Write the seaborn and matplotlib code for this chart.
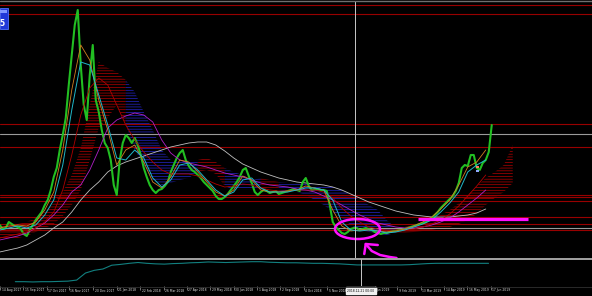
import numpy as np
import pandas as pd
import matplotlib
matplotlib.use("Agg")
import matplotlib.pyplot as plt
import matplotlib.dates as mdates
import matplotlib.transforms as mtransforms
from matplotlib.patches import Ellipse, Rectangle
from matplotlib.lines import Line2D
import seaborn as sns

# ---------------- data ----------------
price_start = "2017-09-04"          # closes sampled every 4 days
close = [4060, 3780, 3850, 4270, 4130, 3990, 3920, 3780, 3430, 3290,
         3710, 4060, 4410, 4690, 4970, 5460, 5810, 6510, 7420, 8050,
         9310, 10360, 11550, 13860, 15960, 18060, 19110, 15260, 12460, 11410,
         14560, 16660, 12810, 11970, 10710, 9800, 9450, 8610, 6860, 6160,
         8610, 9800, 10360, 10150, 9800, 10150, 9660, 8960, 8050, 7420,
         6860, 6510, 6300, 6510, 6580, 6790, 7070, 7770, 8260, 8750,
         9100, 9310, 8610, 8190, 7910, 7770, 7560, 7350, 7070, 6860,
         6650, 6440, 6090, 5880, 5880, 6020, 6230, 6510, 6790, 7070,
         7420, 7910, 8050, 7490, 7000, 6370, 6160, 6370, 6510, 6440,
         6300, 6370, 6440, 6230, 6300, 6370, 6440, 6510, 6580, 6510,
         6440, 7070, 7350, 6790, 6510, 6580, 6580, 6510, 6510, 6440,
         5460, 4270, 3920, 3710, 3500, 3430, 3570, 3780, 3850, 3850,
         3710, 3780, 3850, 3780, 3710, 3570, 3500, 3430, 3500, 3500,
         3570, 3640, 3640, 3710, 3710, 3780, 3850, 3920, 3990, 4060,
         4130, 4200, 4270, 4410, 4550, 4760, 4970, 5250, 5460, 5670,
         5880, 6090, 6440, 7000, 8050, 8260, 8190, 8960, 8960, 8050,
         7910, 8400, 8610, 9170, 11060]

ma_start = "2017-09-04"             # moving averages sampled every 12 days
ma_cyan = [3710, 3850, 3990, 3850, 4060, 4760, 5810, 8260, 12110, 15470,
           15260, 13160, 11060, 8750, 8610, 9310, 8750, 7350, 6720, 7210,
           8260, 8400, 7910, 7210, 6510, 6090, 6370, 7210, 7350, 6650,
           6370, 6370, 6370, 6510, 6650, 6650, 6510, 5810, 4270, 3710,
           3640, 3710, 3640, 3500, 3570, 3710, 3920, 4130, 4410, 4970,
           5600, 6370, 7770, 8260, 8610]
ma_orange = [3850, 3990, 4060, 3990, 4270, 5110, 6370, 9310, 13510, 16660,
             15610, 12810, 10710, 8260, 9310, 9660, 8470, 7070, 6650, 7420,
             8610, 8470, 7770, 7070, 6370, 6090, 6510, 7490, 7210, 6510,
             6370, 6370, 6440, 6510, 6790, 6650, 6510, 5110, 3990, 3640,
             3710, 3780, 3640, 3570, 3640, 3780, 3990, 4270, 4620, 5180,
             5810, 6860, 8120, 8470, 9310]
ma_red = [3150, 3290, 3430, 3570, 3850, 4270, 4970, 6510, 8960, 11760,
          13650, 14350, 13860, 12460, 11060, 10010, 9170, 8470, 7910, 7630,
          7630, 7630, 7490, 7210, 6930, 6720, 6790, 6930, 6860, 6650,
          6510, 6440, 6440, 6510, 6510, 6510, 6370, 5950, 5250, 4690,
          4270, 3920, 3780, 3710, 3710, 3710, 3780, 3920, 4130, 4410,
          4830, 5390, 6090, 6790, 7560]
ma_magenta = [3010, 3150, 3290, 3500, 3850, 4200, 4760, 5460, 6370, 6860,
              7910, 9310, 10850, 11410, 11690, 11900, 11760, 11270, 10010, 9100,
              8610, 8400, 8260, 8120, 7910, 7700, 7560, 7420, 7210, 7000,
              6860, 6790, 6720, 6580, 6510, 6370, 6090, 5810, 5460, 5110,
              4760, 4480, 4200, 4060, 3920, 3850, 3850, 3920, 4060, 4270,
              4550, 4970, 5460, 5950, 6510]
ma_white = [2170, 2310, 2450, 2660, 3010, 3360, 3850, 4270, 4970, 5810,
            6510, 7070, 7770, 8190, 8470, 8680, 8890, 9100, 9310, 9520,
            9660, 9800, 9870, 9870, 9660, 9240, 8750, 8330, 8050, 7770,
            7560, 7350, 7210, 7070, 7000, 6930, 6860, 6720, 6510, 6230,
            5950, 5670, 5460, 5250, 5040, 4900, 4760, 4690, 4620, 4620,
            4620, 4690, 4760, 4900, 5180]

cloud_top = [4060, 3990, 4130, 4270, 4550, 4970, 5600, 6370, 7560, 9450,
             12460, 15470, 15050, 14770, 14210, 13370, 11970, 10710, 9310, 8610,
             8470, 8610, 8610, 8750, 8470, 8050, 7770, 7560, 7210, 7350,
             7210, 7070, 7000, 7000, 6930, 6860, 6790, 6720, 6510, 6160,
             5810, 5460, 5110, 4410, 3850, 3920, 4060, 4270, 4550, 4760,
             5110, 5600, 6160, 6790, 7350, 7770, 8260, 9660]
cloud_bot = [3010, 3010, 3150, 3290, 3570, 3850, 4130, 4690, 5460, 6510,
             8610, 10850, 11550, 12460, 11060, 9310, 8260, 7210, 6860, 7000,
             7210, 7350, 7770, 7910, 7630, 6790, 6510, 6510, 6510, 6650,
             6650, 6510, 6370, 6370, 6160, 5810, 5460, 4970, 4550, 4060,
             3710, 3570, 3430, 3360, 3500, 3500, 3570, 3640, 3710, 3850,
             3920, 4130, 4410, 4830, 5460, 5950, 6370, 7000]
cloud_side = ("rrrrrrrrrrrrrr" "bbbbbbbb" "rrr" "bbbb" "rr"
              "bbbbbbbbbbbbb" "rrrrrrrrrrrrrr")

osc = [16, 16, 15, 16, 16, 17, 18, 22, 48, 58,
       63, 77, 80, 84, 87, 84, 82, 81, 83, 84,
       86, 87, 89, 88, 87, 88, 89, 90, 90, 88,
       87, 86, 86, 85, 84, 84, 83, 82, 80, 78,
       78, 78, 78, 78, 78, 79, 81, 83, 84, 84,
       84, 84, 84, 84, 84]

levels_red = [19460, 18830, 11130, 9520, 6160, 6020, 5740, 4620, 4130, 3710]
levels_gray = [10430, 3850]

tick_dates = ["2017-08-14", "2017-09-15", "2017-10-17", "2017-11-16", "2017-12-20",
              "2018-01-21", "2018-02-22", "2018-03-26", "2018-04-27", "2018-05-29",
              "2018-06-30", "2018-08-01", "2018-09-02", "2018-10-04", "2018-11-05",
              "2019-01-09", "2019-02-09", "2019-03-13", "2019-04-14", "2019-05-16",
              "2019-06-17"]
tick_labels = ["14 Aug 2017", "15 Sep 2017", "17 Oct 2017", "16 Nov 2017", "20 Dec 2017",
               "21 Jan 2018", "22 Feb 2018", "26 Mar 2018", "27 Apr 2018", "29 May 2018",
               "30 Jun 2018", "1 Aug 2018", "2 Sep 2018", "4 Oct 2018", "5 Nov 2018",
               "Jan 2019", "9 Feb 2019", "13 Mar 2019", "14 Apr 2019", "16 May 2019",
               "17 Jun 2019"]
crosshair_date = "2018-12-21"
crosshair_label = "2018.12.21 00:00"

marker_date = "2019-06-03"
marker_prices = [8120, 7840]

ellipse_date, ellipse_price = "2018-12-25", 3780
ellipse_days, ellipse_height = 60, 1400
bar_dates, bar_price = ["2019-03-16", "2019-08-09"], 4515
arrow_dates = ["2019-01-05", "2019-01-13", "2019-01-24", "2019-02-06", "2019-02-15"]
arrow_prices = [2730, 2240, 1960, 1820, 1750]
arrow_head_dates = ["2019-01-21", "2019-01-05", "2019-01-03"]
arrow_head_prices = [2660, 2730, 2030]

# ---------------- style ----------------
sns.set_style("ticks", {"axes.facecolor": "black", "figure.facecolor": "black"})
plt.rcParams["font.family"] = ["DejaVu Sans"]
plt.rcParams["hatch.linewidth"] = 0.45

W, H = 592, 296
fig = plt.figure(figsize=(W / 100, H / 100), dpi=100, facecolor="black")
ax = fig.add_axes([0, 1 - 258 / H, 1, 257 / H])
ax2 = fig.add_axes([0, 1 - 286 / H, 1, 27 / H])

x0 = mdates.date2num(pd.Timestamp("2017-09-04"))
for a in (ax, ax2):
    a.set_facecolor("black")
    for s in a.spines.values():
        s.set_visible(False)
    a.grid(False)

p_dates = pd.date_range(price_start, periods=len(close), freq="4D")
m_dates = pd.date_range(ma_start, periods=len(ma_cyan), freq="12D")
c_dates = pd.date_range(ma_start, periods=len(cloud_top), freq="12D")

# clouds (hatched ribbons)
cnum = mdates.date2num(c_dates)
i = 0
n = len(cloud_side)
while i < n:
    j = i
    while j + 1 < n and cloud_side[j + 1] == cloud_side[i]:
        j += 1
    k = min(j + 1, n - 1)
    col = "#c80000" if cloud_side[i] == "r" else "#2a2ae0"
    ax.fill_between(cnum[i:k + 1], cloud_bot[i:k + 1], cloud_top[i:k + 1],
                    facecolor="none", edgecolor=col, hatch="------",
                    linewidth=0, zorder=1)
    i = j + 1

# horizontal levels
for lv in levels_red:
    ax.axhline(lv, color="#980000", lw=0.8, zorder=1.5)
for lv in levels_gray:
    ax.axhline(lv, color="#9a9a9a", lw=0.8, zorder=1.5)

# moving averages and price
sns.lineplot(x=m_dates, y=ma_white, ax=ax, color="#c0c0c0", lw=0.6, zorder=2)
sns.lineplot(x=p_dates, y=close, ax=ax, color="#22bf22", lw=1.5, zorder=3)
sns.lineplot(x=m_dates, y=ma_magenta, ax=ax, color="#b020c8", lw=0.6, zorder=4)
sns.lineplot(x=m_dates, y=ma_red, ax=ax, color="#b00000", lw=0.6, zorder=4)
sns.lineplot(x=m_dates, y=ma_orange, ax=ax, color="#d08020", lw=0.6, zorder=4)
sns.lineplot(x=m_dates, y=ma_cyan, ax=ax, color="#20b8c8", lw=0.7, zorder=4)

md = pd.to_datetime([marker_date, marker_date])
ax.scatter(mdates.date2num(md), marker_prices, c=["#ff8060", "#90a8ff"],
           marker="s", s=3, zorder=6, linewidths=0)

# magenta drawings
mag = "#ff10ff"
ed = mdates.date2num(pd.Timestamp(ellipse_date))
ax.add_patch(Ellipse((ed, ellipse_price), ellipse_days, ellipse_height,
                     facecolor="none", edgecolor=mag, lw=1.8, zorder=7))
bd = mdates.date2num(pd.to_datetime(bar_dates))
ax.hlines(bar_price, bd[0], bd[1], color=mag, lw=2.3, zorder=7)
ad = mdates.date2num(pd.to_datetime(arrow_dates))
ax.plot(ad, arrow_prices, color=mag, lw=1.8, zorder=7, solid_capstyle="round")
hd = mdates.date2num(pd.to_datetime(arrow_head_dates))
ax.plot(hd, arrow_head_prices, color=mag, lw=1.8, zorder=7, solid_capstyle="round")

# oscillator pane
sns.lineplot(x=m_dates, y=osc, ax=ax2, color="#128080", lw=0.8)

# crosshair
cd = mdates.date2num(pd.Timestamp(crosshair_date))
for a in (ax, ax2):
    a.axvline(cd, color="#c8c8c8", lw=0.7, zorder=8)

xl = (x0 + 0.33, x0 + 0.33 + W / 0.75)
ax.set_xlim(*xl)
ax2.set_xlim(*xl)
ax.set_ylim(1750, 19740)
ax2.set_ylim(0, 100)
ax.set_xticks([])
ax.set_yticks([])
ax.set_xlabel("")
ax.set_ylabel("")
ax2.set_yticks([])
ax2.set_ylabel("")
ax2.set_xlabel("")
tnum = mdates.date2num(pd.to_datetime(tick_dates))
ax2.set_xticks(tnum)
ax2.tick_params(axis="x", length=3, width=0.5, color="#a0a0a0",
                direction="out", labelbottom=False)

trans = mtransforms.offset_copy(ax2.get_xaxis_transform(), fig=fig,
                                x=1.5, y=-4.5, units="dots")
for t, lab in zip(tnum, tick_labels):
    ax2.text(t, 0, lab, transform=trans, fontsize=2.2, color="#e0e0e0",
             ha="left", va="center", clip_on=False)

tc = mtransforms.offset_copy(ax2.get_xaxis_transform(), fig=fig,
                             x=0, y=-4.5, units="dots")
ax2.text(cd, 0, crosshair_label, transform=tc, fontsize=2.2, color="black",
         ha="center", va="center", clip_on=False, zorder=10,
         bbox=dict(boxstyle="square,pad=0.4", facecolor="#f0f0f0",
                   edgecolor="#f0f0f0"))

# frame lines
fig.add_artist(Line2D([0, 1], [1 - 0.5 / H, 1 - 0.5 / H], transform=fig.transFigure,
                      color="#707070", lw=1.0))
fig.add_artist(Line2D([0, 1], [1 - 258.5 / H, 1 - 258.5 / H], transform=fig.transFigure,
                      color="#b0b0b0", lw=1.3))
fig.add_artist(Line2D([0, 1], [1 - 286.5 / H, 1 - 286.5 / H], transform=fig.transFigure,
                      color="#303030", lw=0.6))

# top-left blue box
fig.add_artist(Rectangle((0, 1 - 29 / H), 7.5 / W, 21 / H, transform=fig.transFigure,
                         facecolor="#2038d8", edgecolor="#5070ff", lw=0.6))
fig.add_artist(Rectangle((0, 1 - 13 / H), 7 / W, 3 / H, transform=fig.transFigure,
                         facecolor="#8098ff", edgecolor="none"))
fig.text(4.5 / W, 1 - 23.5 / H, "5", color="white", fontsize=5.5,
         ha="right", va="center", fontweight="bold")

fig.savefig("out.png", dpi=100, facecolor="black")
